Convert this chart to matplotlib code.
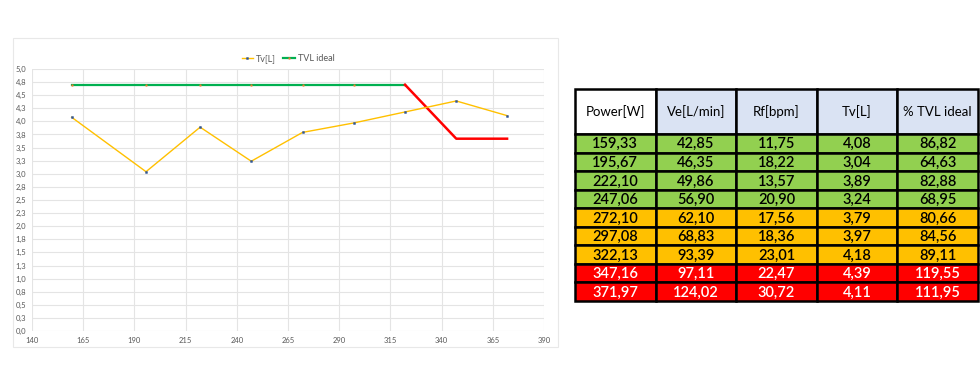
import numpy as np
import matplotlib
matplotlib.use("Agg")
import matplotlib.pyplot as plt
from matplotlib.patches import Rectangle
from matplotlib.ticker import FuncFormatter, MultipleLocator

# table / chart data
columns = ["Power[W]", "Ve[L/min]", "Rf[bpm]", "Tv[L]", "% TVL ideal"]
power = [159.33, 195.67, 222.10, 247.06, 272.10, 297.08, 322.13, 347.16, 371.97]
ve = [42.85, 46.35, 49.86, 56.90, 62.10, 68.83, 93.39, 97.11, 124.02]
rf = [11.75, 18.22, 13.57, 20.90, 17.56, 18.36, 23.01, 22.47, 30.72]
tv = [4.08, 3.04, 3.89, 3.24, 3.79, 3.97, 4.18, 4.39, 4.11]
tvl_pct = [86.82, 64.63, 82.88, 68.95, 80.66, 84.56, 89.11, 119.55, 111.95]
tvl_ideal = [4.70, 4.70, 4.70, 4.70, 4.70, 4.70, 4.70, 3.67, 3.67]
zones = ["green", "green", "green", "green", "orange", "orange", "orange", "red", "red"]
x_ticks = [140, 165, 190, 215, 240, 265, 290, 315, 340, 365, 390]

zone_fill = {"green": "#92D050", "orange": "#FFC000", "red": "#FF0000"}
zone_text = {"green": "black", "orange": "black", "red": "white"}

W, H = 980, 366
fig = plt.figure(figsize=(W / 100, H / 100), dpi=100)
fig.patch.set_facecolor("white")

def fx(px):
    return px / W

def fy(py):
    return 1 - py / H

# chart frame (white box)
frame = Rectangle((fx(13), fy(347)), fx(558 - 13), (347 - 38) / H,
                  transform=fig.transFigure, facecolor="white",
                  edgecolor="#e8e8e8", linewidth=0.8, zorder=1)
fig.patches.append(frame)

# ---- line chart ----
ax = fig.add_axes([fx(32), fy(331), fx(544 - 32), (331 - 69) / H], zorder=2)
ax.set_facecolor("none")
ax.set_xlim(140, 390)
ax.set_ylim(0, 5)
ax.set_xticks(x_ticks)
ax.yaxis.set_major_locator(MultipleLocator(0.25))

def fmt_y(v, pos):
    # Excel-style rounding (0,25 -> 0,3)
    s = f"{int(v * 10 + 0.5 + 1e-9) / 10:.1f}"
    return s.replace(".", ",")

ax.yaxis.set_major_formatter(FuncFormatter(fmt_y))
ax.grid(True, color="#e4e4e4", linewidth=0.8)
ax.set_axisbelow(True)
for s in ax.spines.values():
    s.set_visible(False)
ax.tick_params(length=0, labelsize=5.5, labelcolor="#595959", pad=4)
for lbl in ax.get_xticklabels() + ax.get_yticklabels():
    lbl.set_family("Lato")

ax.plot(power[:7], tvl_ideal[:7], color="#00B050", linewidth=1.6,
        marker="s", markersize=1.0, markerfacecolor="#ED7D31",
        markeredgecolor="#ED7D31", markeredgewidth=0.4, label="TVL ideal", zorder=3)
ax.plot(power[6:], tvl_ideal[6:], color="#FF0000", linewidth=1.8, zorder=3)
ax.plot(power, tv, color="#FFC000", linewidth=1.0, marker="s", markersize=1.3,
        markerfacecolor="#2F5597", markeredgecolor="#2F5597", markeredgewidth=0.4,
        label="Tv[L]", zorder=4)

h, l = ax.get_legend_handles_labels()
leg = ax.legend(h[::-1], l[::-1], loc="lower center", bbox_to_anchor=(0.5, 1.0),
                ncol=2, frameon=False, handlelength=1.3,
                handletextpad=0.3, columnspacing=0.8, borderaxespad=0.3,
                prop={"family": "Lato", "size": 6.5})
for t in leg.get_texts():
    t.set_color("#595959")

# ---- table ----
tx0, tx1, ty0, ty1 = 575, 978, 89, 301
head_h = 45 / 18.5
tab = fig.add_axes([fx(tx0), fy(ty1), fx(tx1 - tx0), (ty1 - ty0) / H], zorder=2)
n_rows = len(power)
tab.set_xlim(0, len(columns))
tab.set_ylim(head_h + n_rows, 0)
tab.axis("off")

lw = 1.8
for j, name in enumerate(columns):
    fc = "white" if j == 0 else "#DAE3F3"
    tab.add_patch(Rectangle((j, 0), 1, head_h, facecolor=fc, edgecolor="black",
                            linewidth=lw, clip_on=False))
    tab.text(j + 0.5, head_h / 2, name, ha="center", va="center",
             fontsize=9.5, family="Lato", color="black")

rows = list(zip(power, ve, rf, tv, tvl_pct))
for i, (row, zone) in enumerate(zip(rows, zones)):
    y = head_h + i
    for j, val in enumerate(row):
        tab.add_patch(Rectangle((j, y), 1, 1, facecolor=zone_fill[zone],
                                edgecolor="black", linewidth=lw, clip_on=False))
        tab.text(j + 0.5, y + 0.55, f"{val:.2f}".replace(".", ","),
                 ha="center", va="center", fontsize=10.5, family="Lato",
                 fontweight="semibold", color=zone_text[zone])

fig.savefig("out.png", dpi=100, facecolor="white")
